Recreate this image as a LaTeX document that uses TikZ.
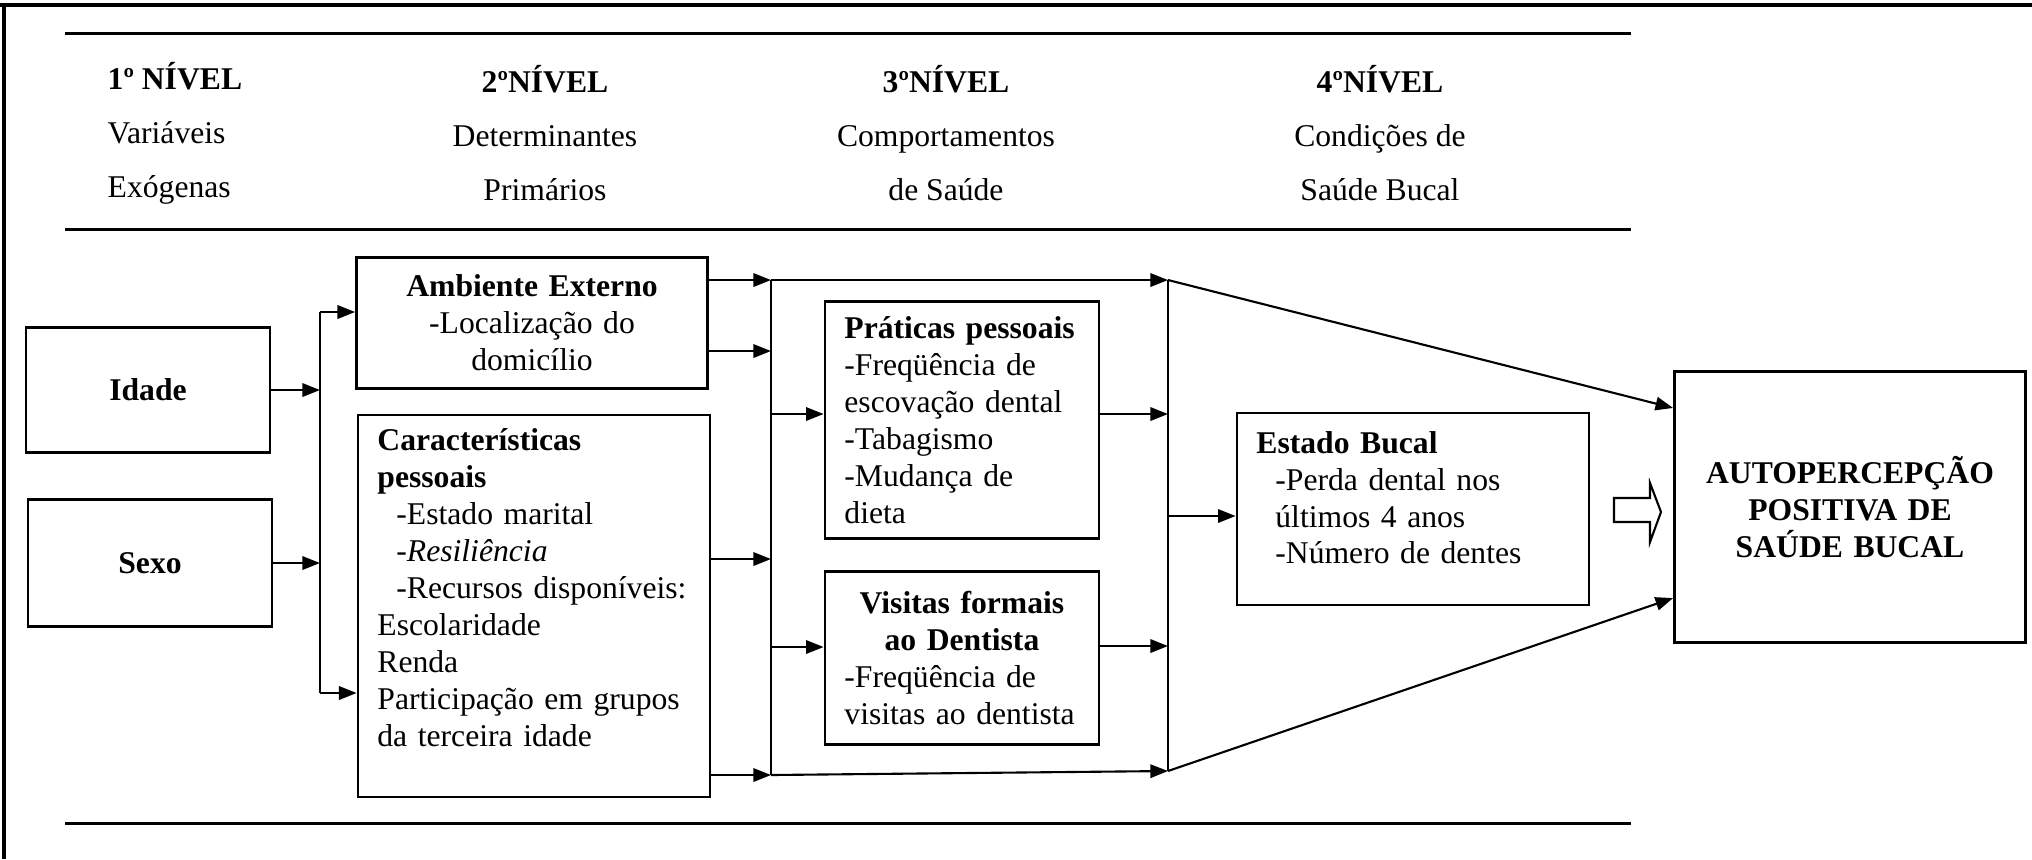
\documentclass[tikz,border=0pt]{standalone}
\usepackage{fontspec}
\setmainfont{Liberation Serif}
\usetikzlibrary{arrows.meta}

\begin{document}
\begin{tikzpicture}[x=0.01cm,y=-0.01cm,
  box/.style={draw,line width=0.75pt,inner xsep=5.5pt,inner ysep=0pt,font=\fontsize{9}{10.5}\selectfont},
  head/.style={inner sep=0pt,font=\fontsize{9}{15.4}\selectfont},
  arr/.style={-{Triangle[length=5pt,width=3.8pt]},line width=0.6pt},
  bus/.style={line width=0.45pt}]
\useasboundingbox (0,0) rectangle (2032,859);
\draw[line width=1.1pt] (0,5) -- (2032,5);
\draw[line width=0.9pt] (4,5) -- (4,859);
\foreach \y in {33,229,823} \draw[line width=0.85pt] (65,\y) -- (1631,\y);

\node[head,anchor=west,align=left] (lv1) at (107,133) {\textbf{1º NÍVEL}\\Variáveis\\Exógenas};
\node[head,align=center] (lv2) at (545,133) {\textbf{2ºNÍVEL}\\Determinantes\\Primários};
\node[head,align=center] (lv3) at (946,133) {\textbf{3ºNÍVEL}\\Comportamentos\\de Saúde};
\node[head,align=center] (lv4) at (1380,133) {\textbf{4ºNÍVEL}\\Condições de\\Saúde Bucal};

\node[box,minimum width=2.44cm,minimum height=1.25cm] (idade) at (148,390) {\textbf{Idade}};
\node[box,minimum width=2.44cm,minimum height=1.27cm] (sexo) at (150,563) {\textbf{Sexo}};
\node[box,minimum width=3.51cm,minimum height=1.31cm,text width=3.12cm,align=center] (amb) at (532,323)
  {\textbf{Ambiente Externo}\\-Localização do\\domicílio};
\node[box,minimum width=3.52cm,minimum height=3.82cm,text width=3.13cm,align=left] (carac) at (534,606)
  {\textbf{Características}\\\textbf{pessoais}\\\hspace*{5.4pt}-Estado marital\\\hspace*{5.4pt}\textit{-Resiliência}\\
   \hspace*{5.4pt}-Recursos disponíveis:\\Escolaridade\\Renda\\Participação em grupos\\da terceira idade\\\mbox{}};
\node[box,minimum width=2.74cm,minimum height=2.37cm,text width=2.35cm,align=left] (prat) at (962,420)
  {\textbf{Práticas pessoais}\\-Freqüência de\\escovação dental\\-Tabagismo\\-Mudança de\\dieta};
\node[box,minimum width=2.74cm,minimum height=1.73cm,text width=2.35cm,align=left] (visit) at (962,658)
  {\makebox[\linewidth][c]{\textbf{Visitas formais}}\\\makebox[\linewidth][c]{\textbf{ao Dentista}}\\-Freqüência de\\visitas ao dentista};
\node[box,minimum width=3.52cm,minimum height=1.92cm,text width=3.13cm,align=left] (estado) at (1413,509)
  {\textbf{Estado Bucal}\\\hspace*{5.4pt}-Perda dental nos\\\hspace*{5.4pt}últimos 4 anos\\\hspace*{5.4pt}-Número de dentes\\[-4pt]\mbox{}};
\node[box,minimum width=3.51cm,minimum height=2.71cm,text width=3.12cm,align=center,font=\fontsize{9}{10.5}\selectfont\bfseries] (auto) at (1850,507)
  {AUTOPERCEPÇÃO\\POSITIVA DE\\SAÚDE BUCAL};

\coordinate (b1t) at (320,312);
\coordinate (b1b) at (320,693);
\coordinate (b2t) at (771,280);
\coordinate (b2b) at (771,775);
\coordinate (b3t) at (1168,280);
\coordinate (b3b) at (1168,771);
\coordinate (a1) at (771,351);
\coordinate (c1) at (771,559);
\coordinate (p0) at (771,414);
\coordinate (v0) at (771,647);
\coordinate (p1) at (1168,414);
\coordinate (v1) at (1168,646);
\coordinate (e0) at (1168,516);

\draw[bus] (b1t) -- (b1b);
\draw[bus] (b2t) -- (b2b);
\draw[bus] (b3t) -- (b3b);
\draw[arr] (idade.east) -- (idade.east -| b1t);
\draw[arr] (sexo.east) -- (sexo.east -| b1t);
\draw[arr] (b1t) -- (b1t -| amb.west);
\draw[arr] (b1b) -- (b1b -| carac.west);
\draw[arr] (b2t -| amb.east) -- (b2t);
\draw[arr] (a1 -| amb.east) -- (a1);
\draw[arr] (c1 -| carac.east) -- (c1);
\draw[arr] (b2b -| carac.east) -- (b2b);
\draw[arr] (p0) -- (p0 -| prat.west);
\draw[arr] (v0) -- (v0 -| visit.west);
\draw[arr] (b2t) -- (b3t);
\draw[arr] (b2b) -- (b3b);
\draw[arr] (p1 -| prat.east) -- (p1);
\draw[arr] (v1 -| visit.east) -- (v1);
\draw[arr] (e0) -- (e0 -| estado.west);
\draw[arr] (b3t) -- ([yshift=0.99cm]auto.west);
\draw[arr] (b3b) -- ([yshift=-0.91cm]auto.west);
\draw[line width=0.6pt] (1614,498) -- (1650,498) -- (1650,483) -- (1661,512) -- (1650,542) -- (1650,522) -- (1614,522) -- cycle;
\end{tikzpicture}
\end{document}
